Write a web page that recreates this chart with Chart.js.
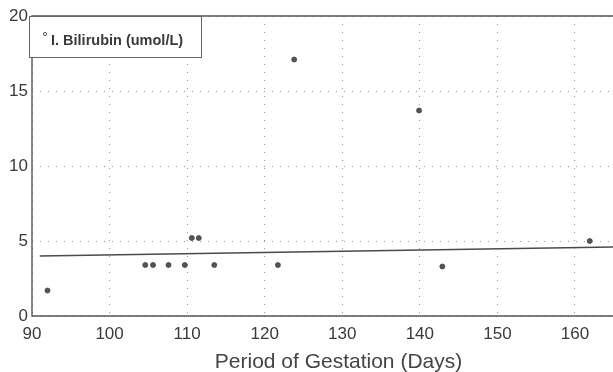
<!DOCTYPE html>
<html>
<head>
<meta charset="utf-8">
<script src="https://cdn.jsdelivr.net/npm/chart.js@4.4.0/dist/chart.umd.min.js"></script>
<style>
  html, body { margin: 0; padding: 0; background: #fff; }
  #wrap { width: 613px; height: 372px; position: relative; }
</style>
</head>
<body>
<div id="wrap"><canvas id="chart"></canvas></div>
<script>
// values
var gestationDays = [92, 104.6, 105.6, 107.6, 109.7, 110.6, 111.5, 113.5, 121.7, 123.8, 139.9, 142.9, 161.9];
var bilirubin     = [1.7, 3.4, 3.4, 3.4, 3.4, 5.2, 5.2, 3.4, 3.4, 17.1, 13.7, 3.3, 5.0];

// fitted trend line end points
var trendDays  = [91, 165];
var trendValues = [4.0, 4.6];

var xTicks = [90, 100, 110, 120, 130, 140, 150, 160];
var yTicks = [0, 5, 10, 15, 20];

var legendLabel = 'I. Bilirubin (umol/L)';
var xTitle = 'Period of Gestation (Days)';

var ink = '#3a3a3a';
Chart.defaults.font.family = '"Liberation Sans", Arial, sans-serif';
Chart.defaults.color = ink;

function toPoints(xs, ys) {
  return xs.map(function (x, i) { return { x: x, y: ys[i] }; });
}

// solid frame, boxed legend and the axis title (sits a bit right of centre in the original)
var framePlugin = {
  id: 'frame',
  afterDraw: function (chart) {
    var ctx = chart.ctx, a = chart.chartArea;
    ctx.save();
    ctx.strokeStyle = '#555';
    ctx.lineWidth = 1.4;
    ctx.beginPath();
    ctx.moveTo(a.right, a.bottom);
    ctx.lineTo(a.left, a.bottom);
    ctx.lineTo(a.left, a.top);
    ctx.lineTo(a.right, a.top);
    ctx.stroke();

    // legend box
    var bx = a.left - 3, by = a.top, bw = 172, bh = 41;
    ctx.fillStyle = '#fff';
    ctx.fillRect(bx, by, bw, bh);
    ctx.strokeStyle = '#666';
    ctx.lineWidth = 1;
    ctx.strokeRect(bx + 0.5, by + 0.5, bw, bh);
    ctx.beginPath();
    ctx.arc(bx + 16, by + 18, 1.6, 0, Math.PI * 2);
    ctx.strokeStyle = '#555';
    ctx.stroke();
    ctx.font = 'bold 14.5px "Liberation Sans", Arial, sans-serif';
    ctx.fillStyle = ink;
    ctx.textBaseline = 'middle';
    ctx.fillText(legendLabel, bx + 22, by + 25);

    // x axis title
    ctx.font = '21px "Liberation Sans", Arial, sans-serif';
    ctx.fillStyle = '#444';
    ctx.textAlign = 'center';
    ctx.textBaseline = 'alphabetic';
    ctx.fillText(xTitle, (a.left + a.right) / 2 + 16, a.bottom + 52);
    ctx.restore();
  }
};

new Chart(document.getElementById('chart'), {
  type: 'scatter',
  data: {
    datasets: [{
      label: legendLabel,
      data: toPoints(gestationDays, bilirubin),
      pointRadius: 2.5,
      pointBackgroundColor: '#555',
      pointBorderColor: '#444',
      pointBorderWidth: 0.8
    }, {
      type: 'line',
      label: 'trend',
      data: toPoints(trendDays, trendValues),
      borderColor: '#4a4a4a',
      borderWidth: 1.6,
      pointRadius: 0,
      fill: false
    }]
  },
  options: {
    responsive: true,
    maintainAspectRatio: false,
    animation: false,
    layout: { autoPadding: false, padding: { top: 16, right: 0, left: 0, bottom: 0 } },
    plugins: { legend: { display: false }, tooltip: { enabled: false } },
    scales: {
      x: {
        type: 'linear',
        min: 90,
        max: 164.9,
        afterBuildTicks: function (s) { s.ticks = xTicks.map(function (v) { return { value: v }; }); },
        afterFit: function (s) { s.height = 56; s.paddingRight = 0; s.paddingLeft = 0; },
        ticks: { font: { size: 17 }, padding: 8, maxRotation: 0 },
        grid: { color: '#999', lineWidth: 1, drawTicks: false },
        border: { display: false, dash: [1, 7] }
      },
      y: {
        min: 0,
        max: 20,
        afterBuildTicks: function (s) { s.ticks = yTicks.map(function (v) { return { value: v }; }); },
        afterFit: function (s) { s.width = 32; },
        ticks: { font: { size: 17 }, padding: 4 },
        grid: { color: '#999', lineWidth: 1, drawTicks: false },
        border: { display: false, dash: [1, 7] }
      }
    }
  },
  plugins: [framePlugin]
});
</script>
</body>
</html>
